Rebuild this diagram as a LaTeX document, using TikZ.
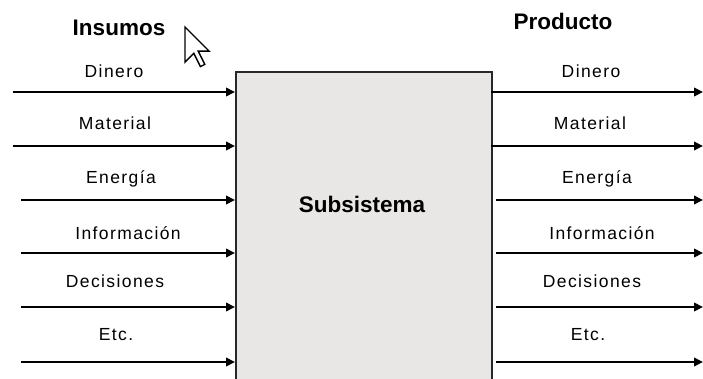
\documentclass[tikz,border=0pt]{standalone}
\usepackage{fontspec}
\setmainfont{Liberation Sans}
\newfontfamily\flowfont[LetterSpace=8]{Liberation Sans}
\usetikzlibrary{arrows.meta}
\definecolor{boxfill}{RGB}{232,231,229}
\definecolor{boxline}{RGB}{40,40,40}
\tikzset{
  flow/.style={line width=2pt, -{Triangle[length=9pt,width=8.5pt]}},
  flowlabel/.style={anchor=base, inner sep=0pt, font=\flowfont\fontsize{17.5}{20}\selectfont},
  heading/.style={anchor=base, inner sep=0pt, font=\bfseries\fontsize{22.5}{26}\selectfont},
  sysbox/.style={draw=boxline, line width=2pt, fill=boxfill, inner sep=0pt}
}
\begin{document}
\begin{tikzpicture}[x=1pt, y=-1pt]
  \useasboundingbox (0,0) rectangle (703,379);
  \begin{scope}
    \clip (0,0) rectangle (703,379);
    % central block, running past the lower edge
    \node[sysbox, minimum width=256pt, minimum height=340pt, anchor=north west] (box) at (235,71) {};
  \end{scope}
  \node[heading] (sysname) at (362,213) {Subsistema};

  % headings
  \node[heading] (inputs) at (119,36) {Insumos};
  \node[heading] (outputs) at (563,30) {Producto};

  % mouse pointer
  \begin{scope}[shift={(185,27)}, scale=2.2]
    \draw[fill=white, line width=1.4pt, line join=miter]
      (0,0) -- (0,16) -- (4,12) -- (7,18) -- (9,17) -- (6,11) -- (11,11) -- cycle;
  \end{scope}

  % input and output flows
  \foreach \i/\txt/\ya/\yb/\xl/\xr/\cl/\cr in {
      1/Dinero/92/78/12.7/491/114/591,
      2/Material/146/130/12.7/491/115/590,
      3/Energía/200/184/21/496/121/597,
      4/Información/253/239/21/496/128/602,
      5/Decisiones/307/287/21/496/115/592,
      6/Etc./362/340/21/496/116/588} {
    \coordinate (in\i) at (\xl,\ya);
    \coordinate (out\i) at (703,\ya);
    \draw[flow] (in\i) -- (in\i -| box.west);
    \draw[flow] (\xr,\ya) coordinate (src\i) -- (out\i);
    \node[flowlabel] (inlbl\i) at (\cl,\yb) {\txt};
    \node[flowlabel] (outlbl\i) at (\cr,\yb) {\txt};
  }
\end{tikzpicture}
\end{document}
